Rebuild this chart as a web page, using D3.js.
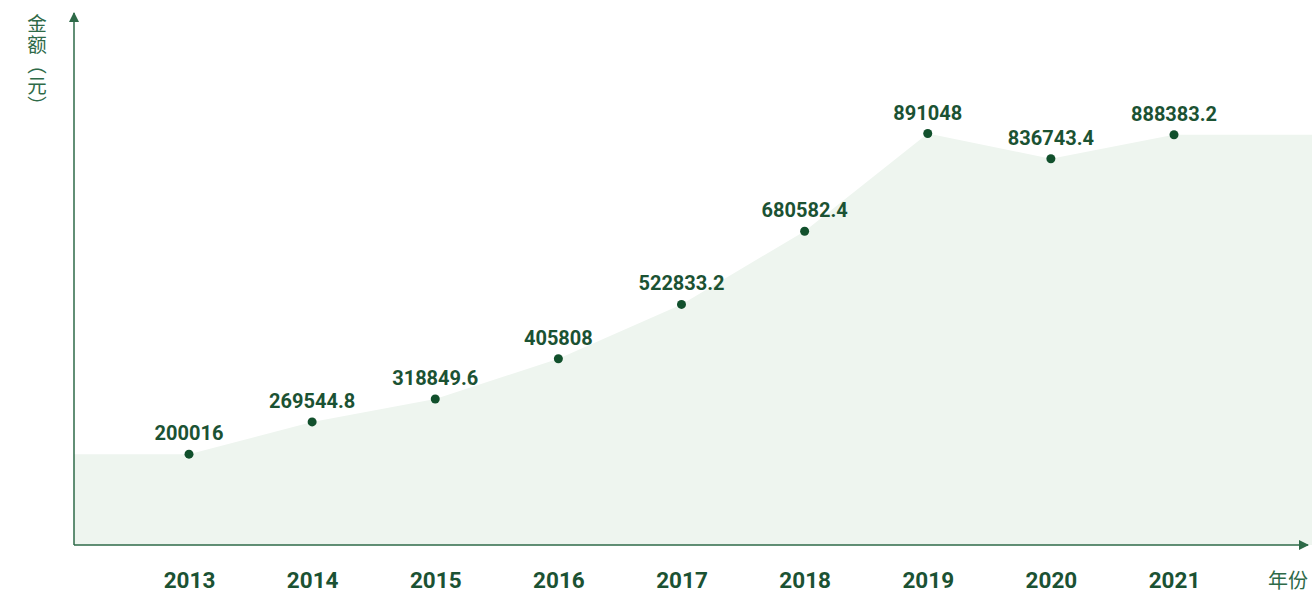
<!DOCTYPE html>
<html>
<head>
<meta charset="utf-8">
<script src="https://cdn.jsdelivr.net/npm/d3@7"></script>
<style>
  body { margin: 0; background: #fff; }
  svg { display: block; }
</style>
</head>
<body>
<script>
const years = ['2013', '2014', '2015', '2016', '2017', '2018', '2019', '2020', '2021'];
const amounts = [200016, 269544.8, 318849.6, 405808, 522833.2, 680582.4, 891048, 836743.4, 888383.2];
const labels = ['200016', '269544.8', '318849.6', '405808', '522833.2', '680582.4', '891048', '836743.4', '888383.2'];

const width = 1312;
const height = 594;
const axisX = 74;
const axisY = 545;
const green = '#1b5233';
const axisColor = '#2e6a48';

const svg = d3.select('body').append('svg')
    .attr('width', width)
    .attr('height', height);

let x = d3.scalePoint().domain(years).range([189, 1174]);
let y = d3.scaleLinear().domain([0, 1000000]).range([547, 83]);

// area, stretched flat to the axis on the left and to the edge on the right
const areaPts = [[axisX, amounts[0]]]
    .concat(years.map((d, i) => [x(d), amounts[i]]))
    .concat([[width, amounts[amounts.length - 1]]]);

const area = d3.area()
    .x(d => d[0])
    .y0(axisY)
    .y1(d => y(d[1]));

svg.append('path')
    .datum(areaPts)
    .attr('fill', '#eef5ef')
    .attr('d', area);

// axes with arrows
const defs = svg.append('defs');
defs.append('marker')
    .attr('id', 'arrow')
    .attr('viewBox', '0 0 10 10')
    .attr('refX', 9).attr('refY', 5)
    .attr('markerWidth', 10).attr('markerHeight', 10)
    .attr('markerUnits', 'userSpaceOnUse')
    .attr('orient', 'auto')
  .append('path')
    .attr('d', 'M0,0 L10,5 L0,10 Z')
    .attr('fill', axisColor);

svg.append('line')
    .attr('x1', axisX).attr('y1', axisY)
    .attr('x2', axisX).attr('y2', 13)
    .attr('stroke', axisColor).attr('stroke-width', 1.5)
    .attr('marker-end', 'url(#arrow)');

svg.append('line')
    .attr('x1', axisX).attr('y1', axisY)
    .attr('x2', 1308).attr('y2', axisY)
    .attr('stroke', axisColor).attr('stroke-width', 1.5)
    .attr('marker-end', 'url(#arrow)');

// x tick labels
const xAxis = svg.append('g')
    .attr('transform', 'translate(0,' + axisY + ')')
    .call(d3.axisBottom(x).tickSize(0).tickPadding(27));
xAxis.select('.domain').remove();
xAxis.selectAll('text')
    .attr('fill', green)
    .attr('font-family', 'Roboto, sans-serif')
    .attr('font-weight', 'bold')
    .attr('font-size', 22.5);

// points and value labels
svg.selectAll('.dot')
    .data(years)
    .enter().append('circle')
    .attr('class', 'dot')
    .attr('cx', d => x(d))
    .attr('cy', (d, i) => y(amounts[i]))
    .attr('r', 4.5)
    .attr('fill', '#11502c');

svg.selectAll('.val')
    .data(years)
    .enter().append('text')
    .attr('class', 'val')
    .attr('x', d => x(d))
    .attr('y', (d, i) => y(amounts[i]) - 14)
    .attr('text-anchor', 'middle')
    .attr('fill', green)
    .attr('font-family', 'Roboto, sans-serif')
    .attr('font-weight', 'bold')
    .attr('font-size', 20)
    .text((d, i) => labels[i]);

// axis titles
svg.append('text')
    .attr('x', 37).attr('y', 14)
    .attr('fill', axisColor)
    .attr('font-family', '"Noto Sans CJK SC", sans-serif')
    .attr('font-size', 19.5)
    .style('letter-spacing', '1px')
    .style('writing-mode', 'vertical-rl')
    .style('text-orientation', 'upright')
    .text('金额（元）');

svg.append('text')
    .attr('x', 1288).attr('y', 588)
    .attr('text-anchor', 'middle')
    .attr('fill', axisColor)
    .attr('font-family', '"Noto Sans CJK SC", sans-serif')
    .attr('font-size', 20)
    .text('年份');
</script>
</body>
</html>
